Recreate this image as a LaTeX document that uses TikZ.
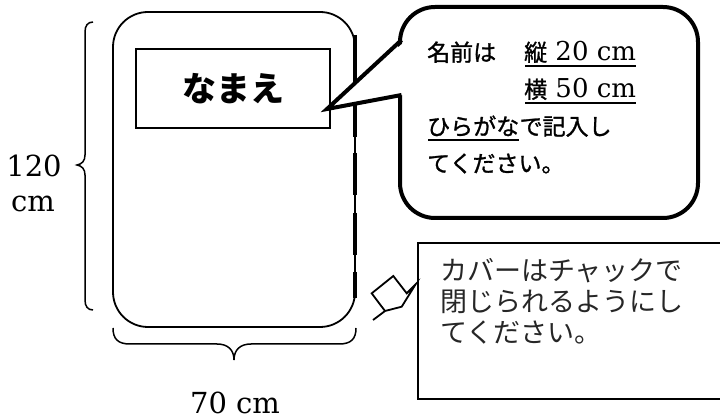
\documentclass[tikz,border=0pt]{standalone}
\usepackage{fontspec}
\setmainfont{DejaVu Serif}
\newfontfamily\jp{Noto Sans CJK JP}
\newfontfamily\jpm{Noto Sans CJK JP}[FakeBold=1.2]
\usetikzlibrary{calc}
\newcommand{\fsz}[1]{\fontsize{#1}{#1}\selectfont}
\begin{document}
\begin{tikzpicture}[x=1pt,y=-1pt,
  coverbox/.style={draw, line width=1.8pt, rounded corners=35pt, minimum width=242pt, minimum height=315pt, outer sep=0pt, inner sep=0pt},
  namebox/.style={draw, line width=1.8pt, minimum width=194pt, minimum height=79pt, outer sep=0pt, inner sep=0pt, font=\jp\bfseries\fsz{34}},
  bubblebox/.style={draw, line width=4pt, rounded corners=35pt, minimum width=298pt, minimum height=211pt, outer sep=0pt},
  notebox/.style={draw, line width=1.3pt, minimum width=306pt, minimum height=156pt, outer sep=0pt},
  zip/.style={line width=4.5pt},
  brace/.style={line width=1.5pt},
  dimtext/.style={inner sep=0pt, anchor=base, font=\fsz{29}},
  btext/.style={inner sep=0pt, anchor=base west, font=\fsz{26}},
  jtext/.style={inner sep=0pt, anchor=base west, font=\jpm\fsz{23}},
  ntext/.style={inner sep=0pt, anchor=base west, text=black!85, font=\jp\fsz{27}},
  uline/.style={line width=1.5pt}
]
\useasboundingbox (0,0) rectangle (720,419);
\fill[white] (0,0) rectangle (720,419);

% cover
\node[coverbox] (cover) at (234,169.5) {};
% zipper
\draw[zip] (355,35) -- (355,137);
\draw[zip] (355,153) -- (355,195);
\draw[zip] (355,213) -- (355,255);
\draw[zip] (355,272) -- (355,298);

% name box
\node[namebox] (name) at (233,88.5) {なまえ};

% braces
\draw[brace] (93,22) .. controls (87.5,22) and (85,26) .. (85,32) -- (85,155)
  .. controls (85,161) and (82,164) .. (77,165) .. controls (82,166) and (85,169) .. (85,175)
  -- (85,300) .. controls (85,306) and (87.5,310) .. (93,310);
\draw[brace] (113,328) .. controls (113,339) and (118,344) .. (130,344) -- (217,344)
  .. controls (228,344) and (234,350) .. (234,360) .. controls (234,350) and (240,344) .. (251,344)
  -- (339,344) .. controls (351,344) and (356,339) .. (356,328);

\node[dimtext] (h120) at (34,177) {120};
\node[dimtext] (hcm) at (33,212) {cm};
\node[dimtext] (w70) at (235,413) {70 cm};

% speech bubble
\node[bubblebox] (bubble) at (549,112.5) {};
\coordinate (tip) at (327,109);
\coordinate (ta) at ($(bubble.north west)+(0,34)$);
\coordinate (tb) at ($(bubble.north west)+(0,88)$);
\fill[white] ($(ta)+(3,2)$) -- (tip) -- ($(tb)+(3,0)$) -- cycle;
\draw[line width=4pt, line join=miter] ($(ta)+(1.5,-1)$) -- (tip) -- ($(tb)+(1.5,0)$);

\node[jtext] (b1) at (427,61) {名前は};
\node[btext] (b1u) at (524,61) {{\jpm\fsz{23}縦} 20 cm};
\node[btext] (b2u) at (524,98) {{\jpm\fsz{23}横} 50 cm};
\node[jtext] (b3a) at (427,135) {ひらがな};
\node[jtext, anchor=base west] (b3b) at (b3a.base east) {で記入し};
\node[jtext] (b4) at (427,172) {てください。};
\draw[uline] ($(b1u.base west)+(1,5)$) -- ($(b1u.base east)+(0,5)$);
\draw[uline] ($(b2u.base west)+(1,5)$) -- ($(b2u.base east)+(0,5)$);
\draw[uline] ($(b3a.base west)+(1,5)$) -- ($(b3a.base east)+(0,5)$);

% zipper pull
\draw[line width=1.8pt, line join=miter] (373,320) -- (385,311) -- (371.7,293.3) -- (393.3,276)
  -- (406.7,293.3) -- (415.5,284.5) -- (401.7,306.7) -- (385,311);

% note box
\node[notebox] (note) at (571,321) {};
\node[ntext] (n1) at (440,281) {カバーはチャックで};
\node[ntext] (n2) at (440,312) {閉じられるようにし};
\node[ntext] (n3) at (440,343) {てください。};
\end{tikzpicture}
\end{document}
